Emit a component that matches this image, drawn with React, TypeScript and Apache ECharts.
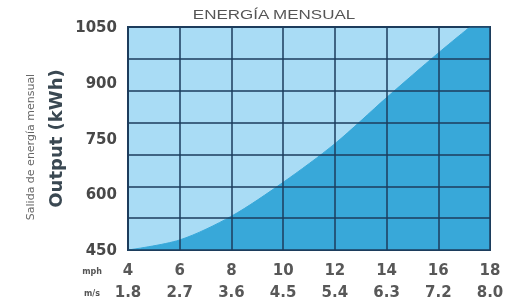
import React, { useEffect, useRef } from "react";
import * as echarts from "echarts";

const mphTicks = [4, 6, 8, 10, 12, 14, 16, 18];
const msLabels = ["1.8", "2.7", "3.6", "4.5", "5.4", "6.3", "7.2", "8.0"];
const outputKwh = [450, 477, 541, 632, 736, 860, 980, 1094];
const yTicks = [450, 600, 750, 900, 1050];

export default function App() {
  const ref = useRef<HTMLDivElement>(null);
  useEffect(() => {
    if (!ref.current) return;
    const chart = echarts.init(ref.current, null, { renderer: "svg" });
    const gridColor = "#1d3d5c";
    chart.setOption({
      animation: false,
      grid: {
        left: 128,
        top: 27,
        right: 20,
        bottom: 52,
        show: true,
        backgroundColor: "#a9dcf5",
        borderColor: gridColor,
        borderWidth: 2,
        z: 0,
      },
      xAxis: {
        type: "value",
        min: 4,
        max: 18,
        interval: 2,
        z: 3,
        axisLine: { show: false },
        axisTick: { show: false },
        splitLine: { show: true, lineStyle: { color: gridColor, width: 1.5 } },
        axisLabel: {
          margin: 9,
          lineHeight: 22,
          fontFamily: "DejaVu Sans",
          fontWeight: "bold",
          fontSize: 15,
          color: "#585858",
          formatter: (v: number) => {
            const i = mphTicks.indexOf(v);
            return i >= 0 ? `${mphTicks[i]}\n${msLabels[i]}` : "";
          },
        },
      },
      yAxis: [
        {
          type: "value",
          min: yTicks[0],
          max: yTicks[yTicks.length - 1],
          interval: 150,
          name: "Output (kWh)",
          nameLocation: "middle",
          nameRotate: 90,
          nameGap: 61,
          nameTextStyle: { fontFamily: "DejaVu Sans", fontWeight: "bold", fontSize: 18, color: "#3a4852" },
          axisLine: { show: false },
          axisTick: { show: false },
          splitLine: { show: false },
          axisLabel: {
            margin: 11,
            fontFamily: "DejaVu Sans",
            fontWeight: "bold",
            fontSize: 15,
            color: "#484848",
            formatter: (v: number) => String(v),
          },
        },
        {
          type: "value",
          min: 0,
          max: 7,
          interval: 1,
          position: "right",
          z: 3,
          axisLine: { show: false },
          axisTick: { show: false },
          axisLabel: { show: false },
          splitLine: { show: true, lineStyle: { color: gridColor, width: 1.5 } },
        },
      ],
      graphic: [
        {
          type: "text",
          x: 274,
          y: 14,
          scaleX: 1.36,
          style: {
            text: "ENERGÍA MENSUAL",
            fontFamily: "Liberation Sans",
            fontSize: 12.5,
            fill: "#555",
            align: "center",
            verticalAlign: "middle",
          },
        },
        {
          type: "text",
          x: 30,
          y: 147,
          rotation: Math.PI / 2,
          style: {
            text: "Salida de energía mensual",
            fontFamily: "DejaVu Sans",
            fontSize: 11,
            fill: "#666",
            align: "center",
            verticalAlign: "middle",
          },
        },
        {
          type: "text",
          x: 92,
          y: 271,
          style: { text: "mph", fontFamily: "DejaVu Sans", fontWeight: "bold", fontSize: 8, fill: "#555", align: "center", verticalAlign: "middle" },
        },
        {
          type: "text",
          x: 92,
          y: 293,
          style: { text: "m/s", fontFamily: "DejaVu Sans", fontWeight: "bold", fontSize: 8, fill: "#555", align: "center", verticalAlign: "middle" },
        },
      ],
      series: [
        {
          type: "line",
          data: mphTicks.map((m, i) => [m, outputKwh[i]]),
          smooth: 0.3,
          showSymbol: false,
          clip: true,
          z: 2,
          lineStyle: { color: "#38a8d9", width: 1 },
          areaStyle: { color: "#38a8d9", opacity: 1 },
        },
      ],
    });
    return () => chart.dispose();
  }, []);
  return <div ref={ref} style={{ position: "fixed", left: 0, top: 0, width: 510, height: 303 }} />;
}
